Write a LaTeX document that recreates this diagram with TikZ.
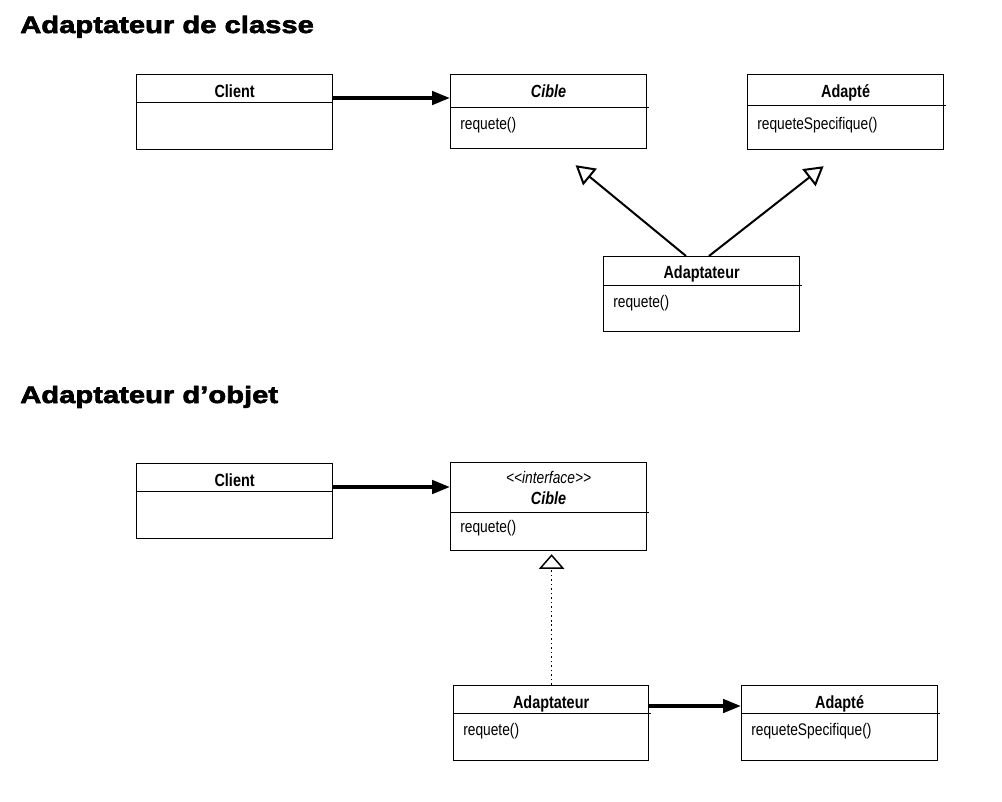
\documentclass[tikz,border=0pt]{standalone}
\usepackage{fontspec}
\setmainfont{Liberation Sans}
\newfontfamily\narrowfont[FakeStretch=0.82]{Liberation Sans}
\newfontfamily\heavyfont[FakeStretch=1.23,FakeBold=2.6]{Liberation Sans}
\usetikzlibrary{arrows.meta,positioning,calc}
\definecolor{ink}{HTML}{000000}

\begin{document}
\begin{tikzpicture}[
  x=0.75pt,y=-0.75pt,
  text=ink,
  heading/.style={font=\heavyfont\bfseries\fontsize{17.8}{20}\selectfont,
    anchor=base west,inner sep=0},
  classbox/.style={draw=ink,line width=0.9pt,minimum width=147pt,
    minimum height=56.25pt,anchor=north west,inner sep=0},
  divider/.style={draw=ink,line width=0.65pt},
  cname/.style={font=\narrowfont\bfseries\fontsize{13.2}{15}\selectfont,
    anchor=base,inner sep=0},
  cop/.style={font=\narrowfont\fontsize{12.6}{15}\selectfont,
    anchor=base west,inner sep=0},
  assoc/.style={-{Triangle[length=13.5pt,width=10pt]},draw=ink,line width=2.8pt},
  inherit/.style={-{Triangle[open,length=14pt,width=16pt]},draw=ink,line width=1.5pt},
  realize/.style={-{Triangle[open,length=11pt,width=19pt]},draw=ink,line width=1.1pt,
    dash pattern=on 1.2pt off 2.2pt}
]
  \useasboundingbox (0,0) rectangle (1002,801);

  % Adaptateur de classe
  \node[heading] (titre1) at (20,33) {Adaptateur de classe};

  \node[classbox] (client1) at (136,74) {};
  \node[classbox,minimum height=55.5pt] (cible1) at (450,74) {};
  \node[classbox] (adapte1) at (747,74) {};
  \node[classbox] (adapt1) at (603,256) {};

  \node[cname] (client1n) at ($(client1.north)+(0,23)$) {Client};
  \node[cname,font=\narrowfont\bfseries\itshape\fontsize{13.2}{15}\selectfont]
    (cible1n) at ($(cible1.north)+(0,23)$) {Cible};
  \node[cname] (adapte1n) at ($(adapte1.north)+(0,23)$) {Adapté};
  \node[cname] (adapt1n) at ($(adapt1.north)+(0,22)$) {Adaptateur};

  \node[cop] (cible1o) at ($(cible1.north west)+(10,55)$) {requete()};
  \node[cop] (adapte1o) at ($(adapte1.north west)+(10,55)$) {requeteSpecifique()};
  \node[cop] (adapt1o) at ($(adapt1.north west)+(10,51)$) {requete()};

  \coordinate (tipcible) at ($(cible1.south)+(27,16)$);
  \coordinate (tipadapte) at ($(adapte1.south)+(-22,16)$);

  \draw[assoc] (client1.east|-0,98) -- (cible1.west|-0,98);
  \draw[inherit] ($(adapt1.north west)+(83,0)$) -- (tipcible);
  \draw[inherit] ($(adapt1.north west)+(106,0)$) -- (tipadapte);

  % Adaptateur d'objet
  \node[heading] (titre2) at (20,403) {Adaptateur d’objet};

  \node[classbox] (client2) at (136,463) {};
  \node[classbox,minimum height=66pt] (cible2) at (450,462) {};
  \node[classbox,minimum width=146.25pt] (adapt2) at (453,685) {};
  \node[classbox] (adapte2) at (741,685) {};

  \node[cname] (client2n) at ($(client2.north)+(0,23)$) {Client};
  \node[cname,font=\narrowfont\itshape\fontsize{12.6}{15}\selectfont]
    (cible2s) at ($(cible2.north)+(0,21)$) {<<interface>>};
  \node[cname,font=\narrowfont\bfseries\itshape\fontsize{13.2}{15}\selectfont]
    (cible2n) at ($(cible2.north)+(0,42)$) {Cible};
  \node[cname] (adapt2n) at ($(adapt2.north)+(0,23)$) {Adaptateur};
  \node[cname] (adapte2n) at ($(adapte2.north)+(0,23)$) {Adapté};

  \node[cop] (cible2o) at ($(cible2.north west)+(10,70)$) {requete()};
  \node[cop] (adapt2o) at ($(adapt2.north west)+(10,50)$) {requete()};
  \node[cop] (adapte2o) at ($(adapte2.north west)+(10,50)$) {requeteSpecifique()};

  \coordinate (tipcible2) at ($(cible2.south)+(3,3)$);

  \draw[assoc] (client2.east|-0,487) -- (cible2.west|-0,487);
  \draw[assoc] (adapt2.east|-0,706) -- (adapte2.west|-0,706);
  \draw[realize] (adapt2.north west-|tipcible2) -- (tipcible2);

  % separateurs
  \foreach \cls/\d/\o in {client1/28/0,cible1/33/2,adapte1/31/2,adapt1/29/2,
      client2/28/0,cible2/50/2,adapt2/28/2,adapte2/28/2}
    \draw[divider] ($(\cls.north west)+(0,\d)$) -- ($(\cls.north east)+(\o,\d)$);
\end{tikzpicture}
\end{document}
